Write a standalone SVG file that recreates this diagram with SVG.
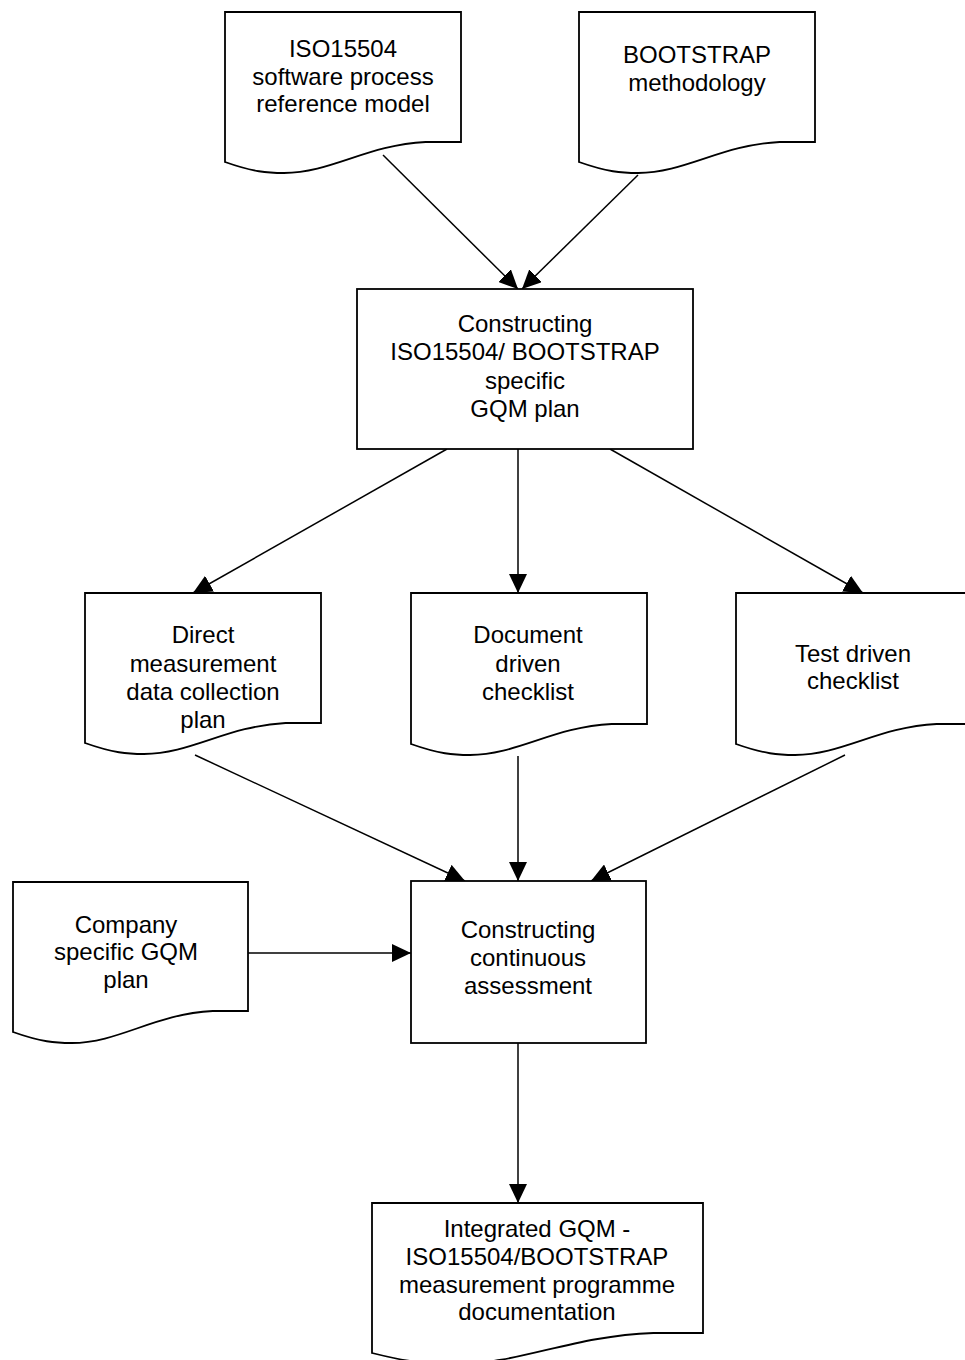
<svg xmlns="http://www.w3.org/2000/svg" width="965" height="1360" viewBox="0 0 965 1360">
  <defs>
    <style>
      .shape { fill: #ffffff; stroke: #000000; stroke-width: 1.8; stroke-linejoin: miter; }
      .edge { fill: none; stroke: #000000; stroke-width: 1.5; }
      .label { font-family: "Liberation Sans", Arial, sans-serif; font-size: 24px; fill: #000000; text-anchor: middle; }
    </style>
    <marker id="arrow" markerUnits="userSpaceOnUse" markerWidth="19" markerHeight="18" refX="19" refY="9" orient="auto">
      <path d="M0,0 L19,9 L0,18 Z" fill="#000000"/>
    </marker>
  </defs>

  <rect x="0" y="0" width="965" height="1360" fill="#ffffff"/>

  <!-- connectors -->
  <g id="connectors">
    <line class="edge" x1="383" y1="155" x2="518" y2="289" marker-end="url(#arrow)"/>
    <line class="edge" x1="638" y1="175" x2="522" y2="289" marker-end="url(#arrow)"/>
    <line class="edge" x1="447" y1="449" x2="193" y2="593" marker-end="url(#arrow)"/>
    <line class="edge" x1="518" y1="449" x2="518" y2="593" marker-end="url(#arrow)"/>
    <line class="edge" x1="610" y1="449" x2="863" y2="593" marker-end="url(#arrow)"/>
    <line class="edge" x1="195" y1="755" x2="465" y2="881" marker-end="url(#arrow)"/>
    <line class="edge" x1="518" y1="756" x2="518" y2="881" marker-end="url(#arrow)"/>
    <line class="edge" x1="845" y1="755" x2="591" y2="881" marker-end="url(#arrow)"/>
    <line class="edge" x1="248" y1="953" x2="411" y2="953" marker-end="url(#arrow)"/>
    <line class="edge" x1="518" y1="1043" x2="518" y2="1203" marker-end="url(#arrow)"/>
  </g>

  <!-- source documents -->
  <g id="doc-iso15504">
    <path class="shape" d="M225,12 H461 V142 L425.6,142 C366.6,145 331.2,173 284,173 C267.5,173 253.3,172 225,162 Z"/>
    <text class="label" x="343" y="57">ISO15504</text>
    <text class="label" x="343" y="84.5">software process</text>
    <text class="label" x="343" y="112">reference model</text>
  </g>

  <g id="doc-bootstrap">
    <path class="shape" d="M579,12 H815 V142 L779.6,142 C720.6,145 685.2,173 638,173 C621.5,173 607.3,172 579,162 Z"/>
    <text class="label" x="697" y="63">BOOTSTRAP</text>
    <text class="label" x="697" y="91">methodology</text>
  </g>

  <!-- GQM plan construction -->
  <g id="proc-gqm-plan">
    <rect class="shape" x="357" y="289" width="336" height="160"/>
    <text class="label" x="525" y="332">Constructing</text>
    <text class="label" x="525" y="360">ISO15504/ BOOTSTRAP</text>
    <text class="label" x="525" y="388.5">specific</text>
    <text class="label" x="525" y="417">GQM plan</text>
  </g>

  <!-- intermediate documents -->
  <g id="doc-direct-measurement">
    <path class="shape" d="M85,593 H321 V723 L285.6,723 C226.6,726 191.2,754 144,754 C127.5,754 113.3,753 85,743 Z"/>
    <text class="label" x="203" y="643">Direct</text>
    <text class="label" x="203" y="672">measurement</text>
    <text class="label" x="203" y="700">data collection</text>
    <text class="label" x="203" y="728">plan</text>
  </g>

  <g id="doc-document-checklist">
    <path class="shape" d="M411,593 H647 V724 L611.6,724 C552.6,727 517.2,755 470,755 C453.5,755 439.3,754 411,744 Z"/>
    <text class="label" x="528" y="643">Document</text>
    <text class="label" x="528" y="672">driven</text>
    <text class="label" x="528" y="700">checklist</text>
  </g>

  <g id="doc-test-checklist">
    <path class="shape" d="M736,593 H972 V724 L936.6,724 C877.6,727 842.2,755 795,755 C778.5,755 764.3,754 736,744 Z"/>
    <text class="label" x="853" y="662">Test driven</text>
    <text class="label" x="853" y="689">checklist</text>
  </g>

  <g id="doc-company-gqm">
    <path class="shape" d="M13,882 H248 V1011 L212.8,1011 C154,1014 118.8,1043 71.8,1043 C55.3,1043 41.2,1042 13,1032 Z"/>
    <text class="label" x="126" y="933">Company</text>
    <text class="label" x="126" y="960">specific GQM</text>
    <text class="label" x="126" y="988">plan</text>
  </g>

  <!-- continuous assessment construction -->
  <g id="proc-continuous-assessment">
    <rect class="shape" x="411" y="881" width="235" height="162"/>
    <text class="label" x="528" y="938">Constructing</text>
    <text class="label" x="528" y="966">continuous</text>
    <text class="label" x="528" y="994">assessment</text>
  </g>

  <!-- final documentation -->
  <g id="doc-integrated">
    <path class="shape" d="M372,1203 H703 V1333 L653.4,1333 C570.6,1336 521,1364 454.8,1364 C431.6,1364 411.7,1363 372,1353 Z"/>
    <text class="label" x="537" y="1237">Integrated GQM -</text>
    <text class="label" x="537" y="1265">ISO15504/BOOTSTRAP</text>
    <text class="label" x="537" y="1293">measurement programme</text>
    <text class="label" x="537" y="1320">documentation</text>
  </g>
</svg>
